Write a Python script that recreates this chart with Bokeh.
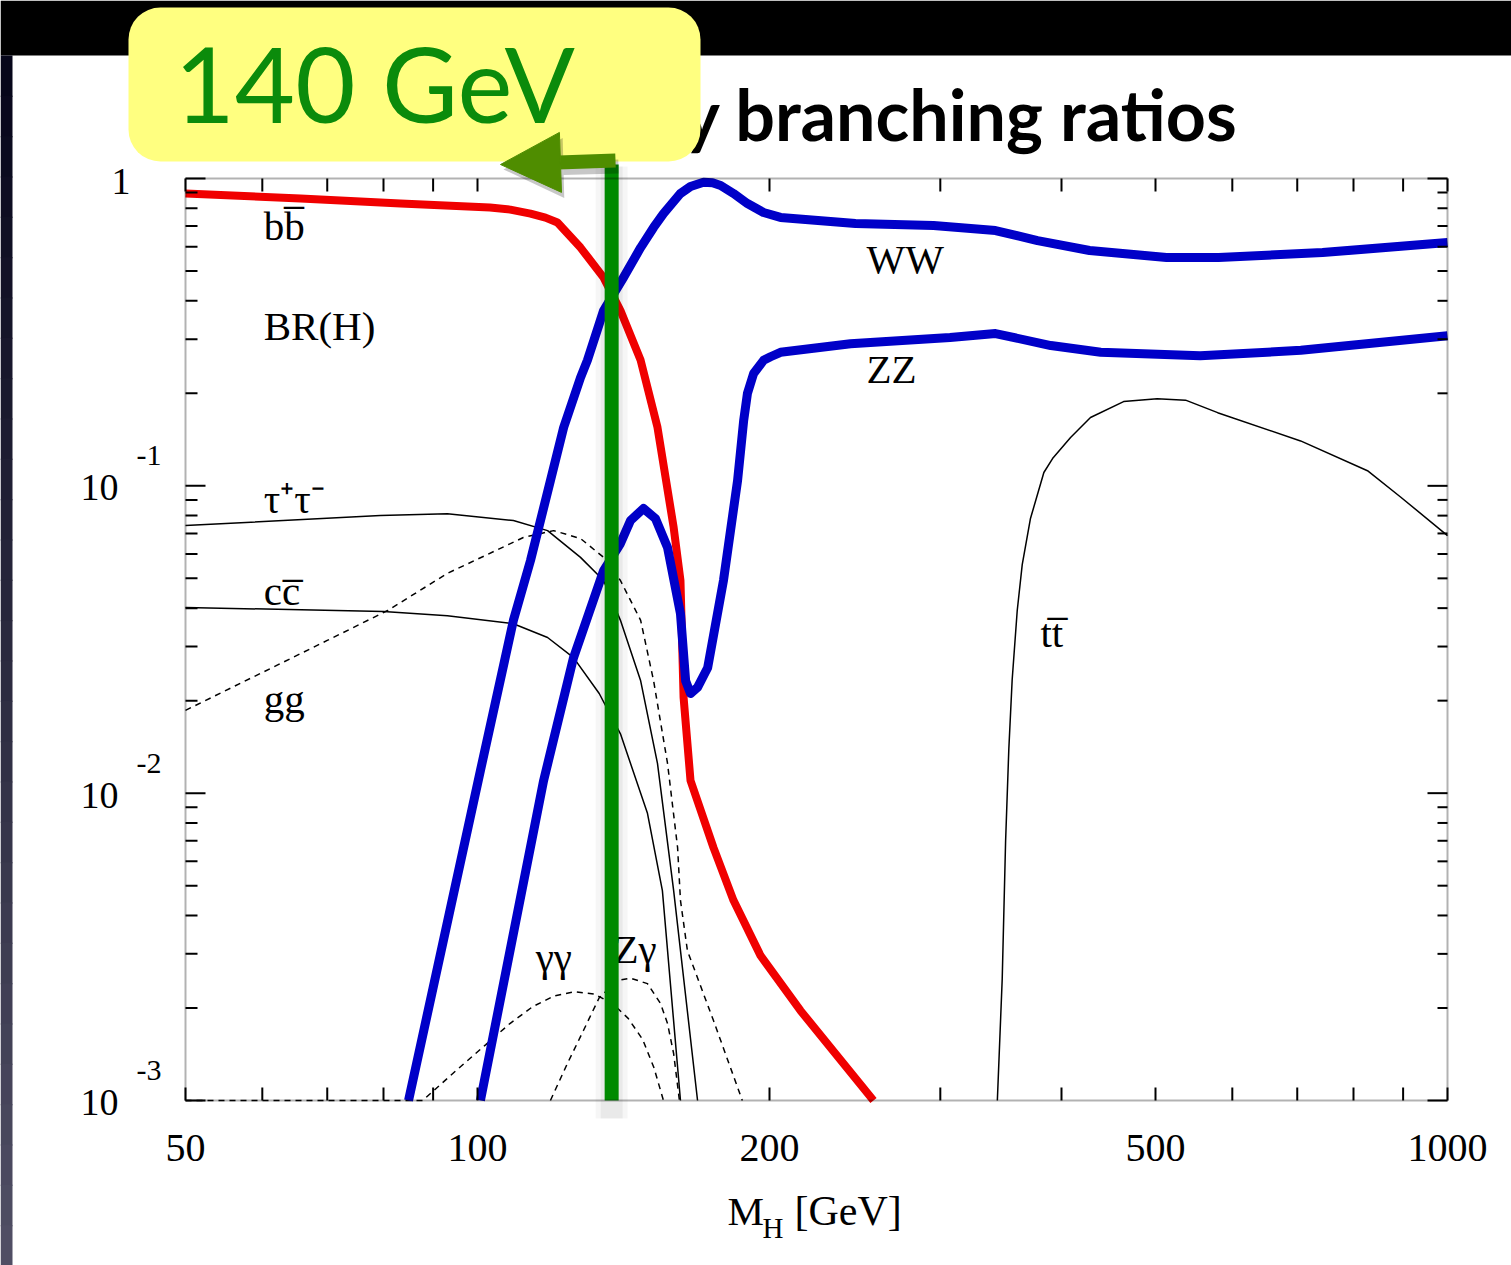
from math import log10
from bokeh.plotting import figure
from bokeh.models import (Range1d, BoxAnnotation, Label, Arrow, NormalHead, ColumnDataSource)
from bokeh.core.properties import value
from bokeh.embed import file_html
from bokeh.resources import INLINE

# ---------------- data (Higgs mass in GeV, branching ratio) ----------------
BB_M = [50, 65.7, 83.3, 103, 108.1, 113.4, 117.5, 120.9, 127.7, 134.9, 140.4, 147.3, 153.3,
        159.3, 161.9, 163.1, 165.8, 175.1, 183.6, 195.8, 215.3, 256]
BB_BR = [0.894, 0.861, 0.829, 0.805, 0.792, 0.769, 0.746, 0.719, 0.596, 0.476, 0.372, 0.256,
         0.155, 0.0732, 0.0492, 0.0205, 0.011, 0.00665, 0.00448, 0.00296, 0.00196, 0.001]

WW_M = [84.9, 100.7, 108.9, 113.4, 118.9, 122.7, 127.7, 129.8, 134.9, 141.4, 147.3, 151.9,
        155.5, 161.9, 165.8, 171, 174.7, 178.1, 183.6, 189.8, 197.2, 205.3, 245.3, 295.2,
        342, 377.9, 427.6, 513.3, 580.8, 743.3, 1000]
WW_BR = [0.001, 0.01185, 0.0365, 0.0571, 0.104, 0.155, 0.225, 0.256, 0.372, 0.476, 0.596,
         0.693, 0.769, 0.894, 0.942, 0.972, 0.968, 0.949, 0.894, 0.829, 0.775, 0.747, 0.714,
         0.703, 0.677, 0.628, 0.583, 0.553, 0.553, 0.574, 0.619]

ZZ_M = [100.7, 117, 125.6, 134.9, 140.4, 143.8, 148.3, 152.6, 157, 161.9, 163.9, 165.8, 168.6,
        172.7, 179.3, 185.4, 188.1, 189.8, 192.6, 197.2, 200.5, 205.3, 242.4, 307, 342, 390,
        439, 556, 706, 1000]
ZZ_BR = [0.001, 0.011, 0.0276, 0.053, 0.0649, 0.0771, 0.0844, 0.0782, 0.063, 0.0384, 0.0232,
         0.0211, 0.0221, 0.0256, 0.0492, 0.104, 0.163, 0.20, 0.232, 0.256, 0.263, 0.272, 0.290,
         0.304, 0.313, 0.286, 0.272, 0.265, 0.276, 0.308]

TAU_M = [50, 79.4, 93.1, 108.9, 118.1, 127.7, 134.9, 140.4, 147.3, 153.3, 159.3, 168.6]
TAU_BR = [0.0743, 0.080, 0.0812, 0.0771, 0.0715, 0.0585, 0.0492, 0.0365, 0.0232, 0.0125,
          0.00482, 0.001]

CC_M = [50, 80, 93.1, 108.9, 118.1, 125.6, 133.5, 140.4, 149.7, 155.1, 161.9]
CC_BR = [0.0402, 0.0390, 0.0378, 0.0356, 0.0321, 0.0276, 0.0211, 0.0156, 0.0086, 0.00482, 0.001]

GG_M = [50, 59.7, 70.0, 80.8, 93.1, 111.5, 119.8, 127.7, 134.9, 140.4, 147.3, 151.9, 157,
        160.8, 161.9, 164.6, 175.1, 187.5]
GG_BR = [0.0186, 0.0245, 0.0314, 0.0393, 0.0519, 0.0679, 0.0715, 0.0674, 0.0585, 0.0492,
         0.0365, 0.0232, 0.0125, 0.00665, 0.00448, 0.00307, 0.00182, 0.001]

GAGA_M = [50, 87.8, 95, 102, 108, 114, 120, 126, 132, 138, 143, 148, 152, 155.5]
GAGA_BR = [0.001, 0.001, 0.00125, 0.00152, 0.00178, 0.00202, 0.00219, 0.00226, 0.00222,
           0.00206, 0.00185, 0.00158, 0.00128, 0.001]

ZGA_M = [118.9, 123.8, 128.6, 133.5, 139.4, 143.8, 149.7, 154.4, 157, 159.3, 161.5]
ZGA_BR = [0.001, 0.00132, 0.00169, 0.00216, 0.00246, 0.0025, 0.0024, 0.00207, 0.00178,
          0.00142, 0.001]

TT_M = [343.5, 347.5, 350.3, 353, 355.8, 360.1, 364.4, 371.6, 383.6, 391.6, 408.7, 428.5,
        463.5, 502, 537, 579.5, 705.6, 827, 894.5, 1000]
TT_BR = [0.001, 0.00249, 0.0070, 0.01396, 0.0234, 0.0393, 0.0554, 0.0783, 0.1105, 0.1227,
         0.1437, 0.1668, 0.188, 0.192, 0.190, 0.173, 0.140, 0.112, 0.092, 0.0689]

CURVE_LABELS = ["b" + "b\u0305", "BR(H)", "\u03c4\u207a\u03c4\u207b", "c" + "c\u0305", "gg",
                "\u03b3\u03b3", "Z\u03b3", "WW", "ZZ", "t" + "t\u0305"]
CURVE_LABEL_M = [60.2, 60.2, 60.2, 60.2, 60.2, 114.8, 138.1, 251.8, 251.8, 380.5]
CURVE_LABEL_BR = [0.698, 0.332, 0.0909, 0.0456, 0.0202, 0.00294, 0.00312, 0.549, 0.2408, 0.0333]

X_TICKS = [50, 100, 200, 500, 1000]
X_TICK_LABELS = ["50", "100", "200", "500", "1000"]
X_MINOR = [60, 70, 80, 90, 300, 400, 600, 700, 800, 900]
Y_TICKS = [1, 0.1, 0.01, 0.001]
Y_TICK_BASE = ["1", "10", "10", "10"]
Y_TICK_EXP = ["", "-1", "-2", "-3"]
Y_MINOR = [m * d for d in (0.001, 0.01, 0.1) for m in range(2, 10)]

TITLE = "Higgs decay branching ratios"
CALLOUT = "140 GeV"
MARKED_M = 137.5
X_TITLE = ["M", "H", "[GeV]"]

X_START, X_END = 50, 1000
Y_START, Y_END = 0.001, 1

# ---------------- layout constants (pixels) ----------------
W, H = 1511, 1265
BOX_L, BOX_R, BOX_T, BOX_B = 185, 1447, 178, 1100
DX = (BOX_R - BOX_L) / log10(X_END / X_START)   # pixels per decade, x
DY = (BOX_B - BOX_T) / log10(Y_END / Y_START)   # pixels per decade, y


def fx(px):
    return 10 ** (px / DX)


def fy(px):
    return 10 ** (px / DY)


x_range = Range1d(10 ** (log10(X_START) - BOX_L / DX), 10 ** (log10(X_END) + (W - BOX_R) / DX))
y_range = Range1d(10 ** (log10(Y_START) - (H - BOX_B) / DY), 10 ** (log10(Y_END) + BOX_T / DY))

p = figure(width=W, height=H, x_axis_type="log", y_axis_type="log",
           x_range=x_range, y_range=y_range, min_border=0,
           x_axis_location=None, y_axis_location=None,
           toolbar_location=None, output_backend="svg", title=None,
           background_fill_color="white", border_fill_color="white",
           outline_line_color=None)
p.grid.visible = False


# ---------------- slide decorations (screen units, y measured from bottom) ----------------
def sbox(left, right, bottom, top, color, level="underlay", radius=0):
    kw = dict(left=left, right=right, bottom=bottom, top=top,
              left_units="screen", right_units="screen",
              bottom_units="screen", top_units="screen",
              fill_color=color, fill_alpha=1, line_color=None, level=level)
    if radius:
        kw["border_radius"] = radius
    b = BoxAnnotation(**kw)
    p.add_layout(b)
    return b


sbox(0, W, H - 55, H, "black")
top_c = (6, 6, 26)
bot_c = (80, 78, 100)
n = 30
for i in range(n):
    t = i / (n - 1)
    c = tuple(int(round(top_c[k] + (bot_c[k] - top_c[k]) * t)) for k in range(3))
    ytop = (H - 55) * (1 - i / n)
    ybot = (H - 55) * (1 - (i + 1) / n)
    sbox(0, 12, ybot - 1, ytop, "#%02x%02x%02x" % c)

# title (left part hidden behind the callout)
p.add_layout(Label(x=1238, y=H - 113, x_units="screen", y_units="screen", text=TITLE,
                   text_align="right", text_baseline="middle",
                   text_font="Lato", text_font_style="bold", text_font_size="70px",
                   text_color="black"))

# ---------------- curves ----------------
DASH = "6 5"
thin = dict(line_color="black", line_width=1.5)
p.line(TAU_M, TAU_BR, **thin)
p.line(CC_M, CC_BR, **thin)
p.line(TT_M, TT_BR, **thin)
p.line(GG_M, GG_BR, line_dash=DASH, **thin)
p.line(GAGA_M, GAGA_BR, line_dash=DASH, **thin)
p.line(ZGA_M, ZGA_BR, line_dash=DASH, **thin)
p.line(BB_M, BB_BR, line_color="#f00000", line_width=8, line_join="round")
p.line(WW_M, WW_BR, line_color="#0000c8", line_width=9, line_join="round")
p.line(ZZ_M, ZZ_BR, line_color="#0000c8", line_width=9, line_join="round")

src = ColumnDataSource(dict(x=CURVE_LABEL_M, y=CURVE_LABEL_BR, t=CURVE_LABELS))
p.text(x="x", y="y", text="t", source=src, text_font=value("Liberation Serif"),
       text_font_size="41px", text_color="black", text_align="left",
       text_baseline="middle")

# ---------------- plot box, ticks ----------------
p.add_layout(BoxAnnotation(left=X_START, right=X_END, bottom=Y_START, top=Y_END,
                           fill_alpha=0, fill_color=None, line_color="black",
                           line_width=2, level="guide"))
xt_all = X_TICKS + X_MINOR
p.segment(x0=xt_all, y0=[Y_START] * len(xt_all), x1=xt_all, y1=[Y_START * fy(13)] * len(xt_all),
          line_color="black", line_width=2)
p.segment(x0=xt_all, y0=[Y_END] * len(xt_all), x1=xt_all, y1=[Y_END / fy(13)] * len(xt_all),
          line_color="black", line_width=2)
y_len = [20] * len(Y_TICKS) + [12] * len(Y_MINOR)
y_right_len = [20] * len(Y_TICKS) + [10] * len(Y_MINOR)
yt_all = Y_TICKS + Y_MINOR
p.segment(x0=[X_START] * len(yt_all), y0=yt_all, x1=[X_START * fx(L) for L in y_len], y1=yt_all,
          line_color="black", line_width=2)
p.segment(x0=[X_END] * len(yt_all), y0=yt_all, x1=[X_END / fx(L) for L in y_right_len],
          y1=yt_all, line_color="black", line_width=2)

# x tick labels
p.text(x=X_TICKS, y=[Y_START / fy(47)] * len(X_TICKS), text=X_TICK_LABELS,
       text_font=value("Liberation Serif"), text_font_size="40px", text_color="black",
       text_align="center", text_baseline="middle")

# y tick labels: 1, 10^-1, 10^-2, 10^-3
for yv, base, ex in zip(Y_TICKS, Y_TICK_BASE, Y_TICK_EXP):
    if ex == "":
        p.text(x=[X_START / fx(55)], y=[yv / fy(3)], text=[base],
               text_font=value("Liberation Serif"), text_font_size="38px",
               text_color="black", text_align="right", text_baseline="middle")
    else:
        p.text(x=[X_START / fx(67)], y=[yv / fy(2)], text=[base],
               text_font=value("Liberation Serif"), text_font_size="38px",
               text_color="black", text_align="right", text_baseline="middle")
        p.text(x=[X_START / fx(49)], y=[yv * fy(30)], text=[ex],
               text_font=value("Liberation Serif"), text_font_size="30px",
               text_color="black", text_align="left", text_baseline="middle")

# x axis title  M_H [GeV]
p.add_layout(Label(x=727, y=H - 1210, x_units="screen", y_units="screen", text=X_TITLE[0],
                   text_baseline="middle", text_font="Liberation Serif",
                   text_font_size="41px", text_color="black"))
p.add_layout(Label(x=762, y=H - 1227, x_units="screen", y_units="screen", text=X_TITLE[1],
                   text_baseline="middle", text_font="Liberation Serif",
                   text_font_size="29px", text_color="black"))
p.add_layout(Label(x=794, y=H - 1210, x_units="screen", y_units="screen", text=X_TITLE[2],
                   text_baseline="middle", text_font="Liberation Serif",
                   text_font_size="42px", text_color="black"))

# ---------------- marker line + callout ----------------
GREEN = "#008a00"
OLIVE = "#4f8d00"
for w, a in ((32, 0.035), (22, 0.05)):
    p.segment(x0=[MARKED_M], y0=[Y_START / fy(18)], x1=[MARKED_M], y1=[Y_END * fy(12)],
              line_color="black", line_alpha=a, line_width=w)
p.segment(x0=[MARKED_M], y0=[Y_START], x1=[MARKED_M], y1=[Y_END * fy(14)],
          line_color=GREEN, line_width=14)

sbox(128, 700, H - 161, H - 7, "#ffff80", level="annotation", radius=32)
p.add_layout(Label(x=174, y=H - 82, x_units="screen", y_units="screen", text=CALLOUT,
                   text_baseline="middle", text_font="Lato", text_font_size="104px",
                   text_color="#0b8b0b"))

p.add_layout(Arrow(end=NormalHead(size=60, fill_color="black", fill_alpha=0.22,
                                  line_color=None),
                   x_start=618, y_start=H - 166, x_end=503, y_end=H - 169,
                   start_units="screen", end_units="screen",
                   line_color="black", line_alpha=0.22, line_width=14))
p.add_layout(Arrow(end=NormalHead(size=60, fill_color=OLIVE, line_color=OLIVE, line_width=1),
                   x_start=615, y_start=H - 160, x_end=500, y_end=H - 164,
                   start_units="screen", end_units="screen",
                   line_color=OLIVE, line_width=14))

open("out.html", "w").write(file_html(p, INLINE))
